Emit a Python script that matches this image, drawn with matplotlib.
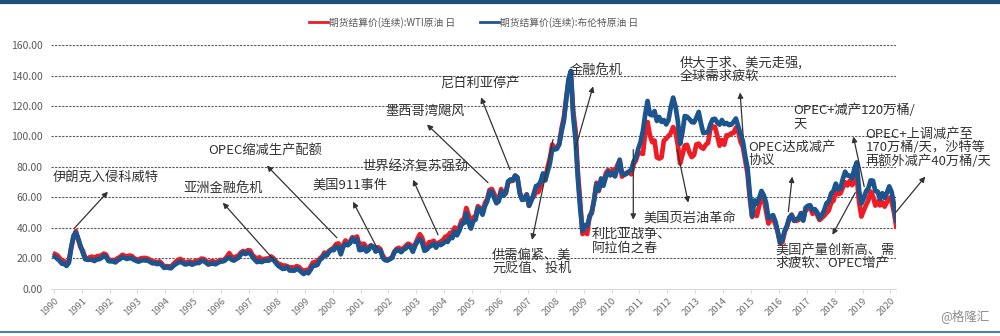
import numpy as np
from matplotlib import pyplot as plt
from matplotlib.lines import Line2D

# 中文字体
plt.rcParams['font.family'] = ['Noto Sans CJK SC', 'DejaVu Sans']

# 月度均价, 1990-01 ~ 2020-03
wti = [
    22.9, 22.1, 20.4, 18.4, 18.2, 16.9, 18.6, 27.2, 33.7, 38.0, 32.3, 27.3,  # 1990
    25.2, 20.5, 19.9, 20.8, 21.2, 20.2, 21.4, 21.7, 21.9, 23.2, 22.5, 19.5,  # 1991
    18.8, 19.0, 18.9, 20.2, 20.9, 22.4, 21.8, 21.4, 21.9, 21.7, 20.3, 19.4,  # 1992
    19.0, 20.1, 20.3, 20.3, 19.9, 19.1, 17.9, 18.0, 17.5, 18.1, 16.7, 14.5,  # 1993
    15.0, 14.8, 14.7, 16.4, 17.9, 19.1, 19.7, 18.4, 17.5, 17.7, 18.1, 17.2,  # 1994
    18.0, 18.6, 18.5, 19.9, 19.7, 18.5, 17.3, 18.0, 18.2, 17.4, 18.0, 19.0,  # 1995
    18.9, 19.1, 21.3, 23.5, 21.2, 20.4, 21.3, 21.9, 23.9, 24.9, 23.7, 25.4,  # 1996
    25.2, 22.2, 20.9, 19.7, 20.8, 19.3, 19.7, 19.9, 19.8, 21.3, 20.2, 18.3,  # 1997
    16.7, 16.1, 15.0, 15.4, 14.9, 13.7, 14.2, 13.5, 15.0, 14.4, 12.9, 11.3,  # 1998
    12.5, 12.0, 14.7, 17.3, 17.8, 17.9, 20.1, 21.3, 23.9, 22.6, 25.0, 26.1,  # 1999
    27.2, 29.4, 29.9, 25.7, 28.8, 31.8, 29.7, 31.3, 33.9, 33.1, 34.4, 28.5,  # 2000
    29.6, 29.6, 27.2, 27.4, 28.6, 27.6, 26.4, 27.4, 26.2, 22.2, 19.6, 19.4,  # 2001
    19.7, 20.7, 24.4, 26.3, 27.0, 25.5, 26.9, 28.4, 29.7, 28.9, 26.3, 29.4,  # 2002
    32.9, 35.9, 33.6, 28.3, 28.1, 30.7, 30.8, 31.6, 28.3, 30.3, 31.1, 32.2,  # 2003
    34.3, 34.7, 36.8, 36.7, 40.3, 38.0, 40.7, 44.9, 46.0, 53.1, 48.5, 43.3,  # 2004
    46.8, 48.0, 54.3, 53.0, 49.8, 56.3, 59.0, 65.0, 65.6, 62.4, 58.3, 59.4,  # 2005
    65.5, 61.6, 62.9, 69.7, 70.9, 70.9, 74.4, 73.0, 63.8, 58.9, 59.1, 62.0,  # 2006
    54.5, 59.3, 60.4, 63.9, 63.5, 67.5, 74.1, 72.4, 79.9, 85.8, 94.8, 91.7,  # 2007
    93.0, 95.4, 105.5, 112.6, 125.4, 136.0, 140.0, 116.7, 104.1, 76.6, 57.3, 36.0,  # 2008
    38.0, 36.0, 47.9, 49.7, 59.0, 69.6, 64.2, 71.1, 69.4, 75.7, 78.0, 74.5,  # 2009
    78.3, 76.4, 81.2, 84.3, 73.7, 75.3, 76.3, 76.6, 75.2, 81.9, 84.3, 89.2,  # 2010
    89.2, 88.6, 102.9, 109.5, 100.9, 96.3, 97.3, 86.3, 85.5, 86.3, 97.2, 98.6,  # 2011
    100.3, 102.2, 106.2, 103.3, 94.7, 82.3, 87.9, 94.1, 94.5, 89.5, 86.5, 87.9,  # 2012
    94.8, 95.3, 92.9, 92.0, 94.5, 95.8, 104.6, 106.6, 106.3, 100.5, 93.9, 97.6,  # 2013
    94.6, 100.8, 100.8, 102.1, 102.2, 105.8, 103.6, 96.5, 93.2, 84.4, 75.8, 59.3,  # 2014
    47.2, 50.6, 47.8, 54.5, 59.3, 59.8, 50.9, 42.9, 45.5, 46.2, 42.4, 37.2,  # 2015
    30.0, 30.5, 37.5, 40.8, 46.7, 48.8, 44.7, 44.7, 45.2, 49.8, 45.7, 52.0,  # 2016
    52.5, 53.5, 49.3, 51.1, 48.5, 45.2, 46.6, 48.0, 49.8, 51.6, 56.6, 57.9,  # 2017
    63.7, 62.2, 62.7, 66.3, 70.0, 67.9, 71.0, 68.1, 70.2, 74.0, 57.0, 47.5,  # 2018
    51.4, 55.0, 58.2, 63.9, 60.8, 54.7, 57.4, 54.8, 57.0, 54.0, 57.0, 59.9,  # 2019
    57.5, 50.5, 41.0,  # 2020
]
brent = [
    21.2, 19.8, 18.4, 16.6, 16.4, 15.1, 17.2, 27.2, 35.0, 37.0, 33.1, 28.3,  # 1990
    23.6, 19.5, 19.1, 19.2, 19.1, 18.3, 19.5, 19.5, 20.3, 21.9, 21.0, 18.3,  # 1991
    18.1, 18.2, 17.4, 18.8, 19.6, 21.1, 20.3, 19.7, 20.2, 20.2, 19.1, 18.4,  # 1992
    17.9, 18.6, 18.9, 18.7, 18.6, 17.7, 16.8, 17.0, 16.3, 16.9, 15.5, 13.8,  # 1993
    14.3, 13.8, 13.6, 15.2, 16.3, 17.2, 18.0, 17.0, 16.1, 16.3, 17.0, 15.9,  # 1994
    16.6, 17.1, 17.0, 18.5, 18.4, 17.2, 16.0, 16.5, 16.7, 16.2, 17.0, 17.9,  # 1995
    18.0, 18.5, 19.9, 20.7, 19.2, 18.6, 19.6, 20.5, 22.6, 24.0, 22.9, 23.8,  # 1996
    23.5, 20.9, 19.1, 17.6, 18.5, 17.6, 18.5, 18.6, 18.6, 19.9, 19.2, 17.1,  # 1997
    15.3, 14.2, 13.2, 13.4, 14.2, 12.1, 12.1, 12.0, 13.4, 12.6, 11.1, 9.8,  # 1998
    11.1, 10.3, 12.5, 15.3, 15.3, 15.9, 19.1, 20.2, 22.5, 22.0, 24.6, 25.5,  # 1999
    25.5, 27.8, 27.3, 22.7, 27.4, 29.8, 28.7, 30.0, 33.0, 30.9, 32.6, 25.5,  # 2000
    25.6, 27.5, 24.5, 25.7, 28.4, 27.7, 24.5, 25.7, 25.6, 20.5, 18.9, 18.6,  # 2001
    19.4, 20.3, 23.7, 25.7, 25.4, 24.1, 25.8, 26.6, 28.4, 27.5, 24.4, 28.3,  # 2002
    31.2, 32.8, 30.3, 25.0, 25.8, 27.6, 28.4, 29.8, 27.1, 29.6, 28.8, 29.8,  # 2003
    31.2, 30.9, 33.8, 33.4, 37.6, 35.2, 38.2, 42.7, 43.2, 49.8, 43.1, 39.6,  # 2004
    44.5, 45.5, 53.1, 51.9, 48.7, 54.3, 57.5, 63.9, 63.8, 59.5, 56.2, 57.6,  # 2005
    63.9, 61.1, 63.1, 70.6, 71.8, 71.2, 74.4, 73.2, 62.5, 58.4, 58.8, 62.0,  # 2006
    54.6, 57.8, 62.4, 67.5, 67.9, 70.6, 75.8, 71.2, 77.0, 82.5, 92.1, 91.5,  # 2007
    91.9, 94.8, 103.3, 110.4, 124.0, 138.0, 143.0, 113.2, 98.0, 72.5, 53.0, 38.0,  # 2008
    42.0, 41.0, 46.8, 50.9, 57.9, 68.6, 64.9, 72.5, 67.7, 73.2, 77.0, 74.7,  # 2009
    76.2, 73.8, 78.8, 84.8, 75.9, 74.8, 75.6, 77.1, 78.2, 83.5, 86.1, 92.0,  # 2010
    96.5, 103.7, 114.6, 123.3, 114.5, 113.9, 116.7, 110.2, 112.8, 109.6, 110.8, 107.9,  # 2011
    110.7, 119.3, 125.5, 119.8, 110.3, 95.2, 102.6, 113.4, 113.0, 111.5, 109.5, 109.2,  # 2012
    112.3, 116.1, 108.5, 102.3, 102.6, 102.9, 107.9, 111.3, 111.6, 109.1, 107.8, 110.8,  # 2013
    108.1, 108.9, 107.5, 107.8, 109.5, 111.8, 106.8, 101.6, 97.1, 87.4, 79.4, 62.3,  # 2014
    47.8, 58.1, 55.9, 59.5, 64.3, 61.5, 56.6, 46.5, 47.6, 48.4, 44.3, 38.0,  # 2015
    30.5, 32.0, 38.2, 41.6, 46.7, 48.3, 44.9, 45.8, 46.6, 49.5, 44.8, 53.3,  # 2016
    54.6, 54.9, 51.6, 52.3, 50.3, 46.4, 48.5, 51.7, 56.2, 57.5, 62.7, 64.4,  # 2017
    69.1, 65.3, 66.0, 72.1, 76.9, 74.4, 74.3, 72.5, 78.9, 83.0, 64.8, 56.0,  # 2018
    59.4, 64.0, 66.1, 71.2, 71.0, 64.2, 63.9, 59.0, 62.8, 59.7, 63.2, 67.3,  # 2019
    63.7, 55.5, 45.0,  # 2020
]
years = list(range(1990, 2021))

# 注释: 文字, 文字位置(年, 价格), 箭头尾, 箭头头
notes = [
    ("伊朗克入侵科威特", (1989.96, 73.0), (1990.75, 40.1), (1991.94, 63.8)),
    ("亚洲金融危机", (1994.66, 65.1), (1997.89, 19.1), (1996.06, 56.6)),
    ("OPEC缩减生产配额", (1995.53, 90.1), (2000.15, 33.6), (1997.64, 80.9)),
    ("美国911事件", (1999.29, 67.8), (2001.59, 27.0), (2000.73, 57.2)),
    ("世界经济复苏强劲", (2001.05, 80.3), (2003.78, 35.5), (2002.88, 71.7)),
    ("墨西哥湾飓风", (2001.88, 116.4), (2005.57, 69.7), (2003.38, 107.9)),
    ("尼日利亚停产", (2003.85, 134.2), (2006.36, 78.3), (2005.32, 125.7)),
    ("金融危机", (2008.51, 142.8), (2008.69, 91.4), (2009.34, 132.9)),
    ("供需偏紧、美\n元贬值、投机", (2005.72, 18.1), (2007.90, 98.0), (2007.15, 32.2)),
    ("利比亚战争、\n阿拉伯之春", (2009.30, 31.3), (2010.78, 91.4), (2010.78, 45.4)),
    ("美国页岩油革命", (2011.13, 46.7), (2012.35, 91.4), (2012.75, 56.6)),
    ("供大于求、美元走强,\n全球需求疲软", (2012.46, 144.1), (2014.72, 100.0), (2014.61, 128.9)),
    ("OPEC达成减产\n协议", (2014.90, 88.8), (2016.34, 50.7), (2016.48, 73.7)),
    ("美国产量创新高、需\n求疲软、OPEC增产", (2015.87, 21.1), (2018.74, 63.2), (2017.92, 35.5)),
    ("OPEC+减产120万桶/\n天", (2016.52, 112.5), (2019.06, 67.1), (2018.67, 100.0)),
    ("OPEC+上调减产至\n170万桶/天，沙特等\n再额外减产40万桶/天", (2019.10, 92.6), (2020.18, 50.0), (2021.25, 73.7)),
]

fig = plt.figure(figsize=(10, 3.36), dpi=100)
ax = fig.add_axes([0.051, 0.14, 0.845, 0.726])

# 月份中点
x = 1990 + (np.arange(len(wti)) + 0.5) / 12
ax.plot(x, wti, color='#ee1c25', lw=3.4, label='期货结算价(连续):WTI原油 日', zorder=3)
ax.plot(x, brent, color='#1c558e', lw=3.4, label='期货结算价(连续):布伦特原油 日', zorder=4)

ax.set_xlim(1989.9, 2020.2)
ax.set_ylim(0, 160)
ax.set_yticks(range(0, 161, 20))
ax.set_yticklabels(['%.2f' % v for v in range(0, 161, 20)], fontsize=7.5, color='#595959')
ax.set_xticks(years)
ax.set_xticklabels([str(y) for y in years], rotation=45, ha='right', rotation_mode='anchor',
                   fontsize=6.8, color='#707070')
ax.tick_params(axis='y', length=0, pad=6)
ax.tick_params(axis='x', length=3, color='#d9d9d9', pad=2)

for v in range(20, 161, 20):
    ax.axhline(v, color='#595959', lw=0.8, ls=(0, (2, 1.2)), zorder=1)
for s in ['top', 'right', 'left']:
    ax.spines[s].set_visible(False)
ax.spines['bottom'].set_color('#d9d9d9')

for text, pos, tail, head in notes:
    ax.text(pos[0], pos[1], text, fontsize=9.5, color='#333333', ha='left', va='center',
            linespacing=1.05, zorder=6, clip_on=False)
    ax.annotate('', xy=head, xytext=tail, annotation_clip=False, zorder=5,
                arrowprops=dict(arrowstyle='-|>', color='#333333', lw=0.9, mutation_scale=8,
                                shrinkA=0, shrinkB=0))

leg = ax.legend(loc='lower center', bbox_to_anchor=(0.5, 1.035), ncol=2, frameon=False,
                fontsize=7, handlelength=2, handletextpad=0.1, columnspacing=2.5)
for t in leg.get_texts():
    t.set_color('#595959')
for h in leg.legend_handles:
    h.set_linewidth(2)

# 上下边框线
fig.add_artist(Line2D([0, 1], [0.994, 0.994], color='#1f4e79', lw=3))
fig.add_artist(Line2D([0, 1], [0.012, 0.012], color='#4a80b0', lw=1.5))
fig.text(0.99, 0.04, '@格隆汇', fontsize=9, color='#8c8c8c', ha='right', va='bottom')

fig.savefig('out.png', dpi=100)
